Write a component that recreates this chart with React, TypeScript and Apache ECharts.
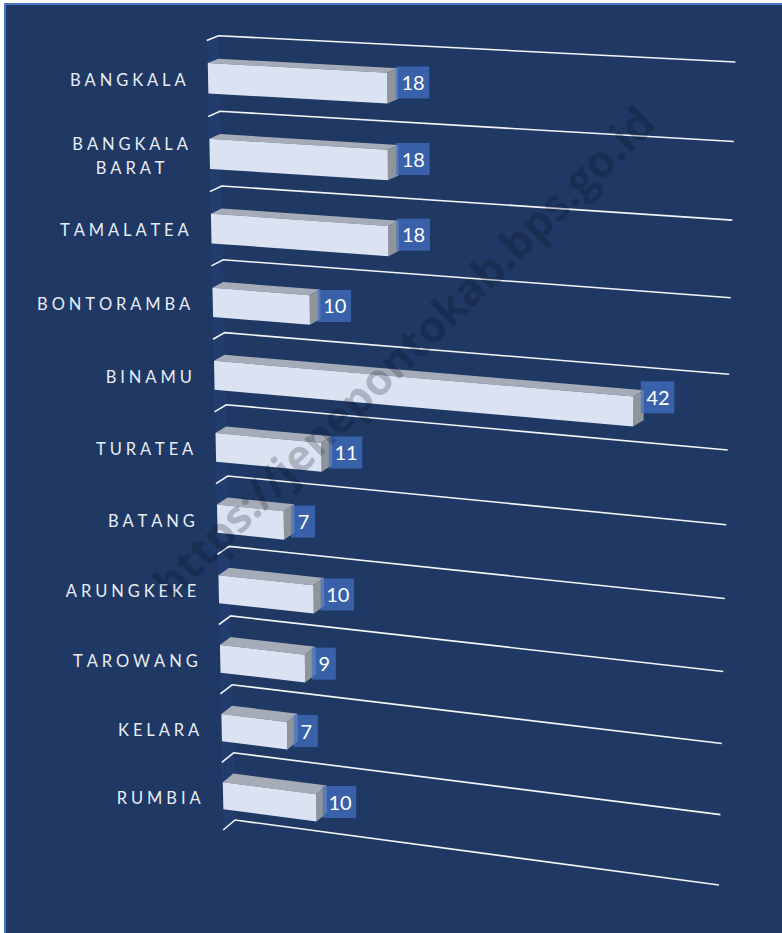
import React, { useEffect, useRef } from "react";
import * as echarts from "echarts";

const categories = ["BANGKALA", "BANGKALA\nBARAT", "TAMALATEA", "BONTORAMBA", "BINAMU", "TURATEA", "BATANG", "ARUNGKEKE", "TAROWANG", "KELARA", "RUMBIA"];
const values = [18, 18, 18, 10, 42, 11, 7, 10, 9, 7, 10];
const WATERMARK = "https://jenepontokab.bps.go.id";

// projection of the flat grid rectangle on to the chart's slanted back wall
const TL = [218.5, 35.7], TR = [735.5, 62], BR = [719, 885], BL = [235, 820];
function homography() {
  const [x0, y0] = TL, [x1, y1] = TR, [x2, y2] = BR, [x3, y3] = BL;
  const dx1 = x1 - x2, dx2 = x3 - x2, sx = x0 - x1 + x2 - x3;
  const dy1 = y1 - y2, dy2 = y3 - y2, sy = y0 - y1 + y2 - y3;
  const den = dx1 * dy2 - dx2 * dy1;
  const g = (sx * dy2 - dx2 * sy) / den, h = (dx1 * sy - sx * dy1) / den;
  return { a: x1 - x0 + g * x1, b: x3 - x0 + h * x3, c: x0, d: y1 - y0 + g * y1, e: y3 - y0 + h * y3, f: y0, g, h };
}
const H = homography();
function project(u: number, v: number, depth: number) {
  const w = H.g * u + H.h * v + 1;
  const x = (H.a * u + H.b * v + H.c) / w;
  const y = (H.d * u + H.e * v + H.f) / w;
  return [x - (1 - depth) * 11.8, y + (1 - depth) * (4.7 + 5.3 * v)];
}
function flat(params: any, pt: number[]) {
  const s = params.coordSys;
  return [(pt[0] - s.x) / s.width, (pt[1] - s.y) / s.height];
}

const FRONT_D = 0.05, BACK_D = 0.95;

function gridItem(params: any, api: any) {
  const idx = api.value(1);
  const c = api.coord([0, idx]);
  const band = api.size([0, 1])[1];
  const top = flat(params, [c[0], c[1] - band / 2])[1];
  const bottom = flat(params, [c[0], c[1] + band / 2])[1];
  const children: any[] = [];
  const line = (v: number) => ({
    type: "polyline",
    shape: { points: [project(0, v, 0), project(0, v, 1), project(1, v, 1)] },
    style: { stroke: "#F4F5F7", lineWidth: 1.6, fill: "none" },
  });
  if (params.dataIndex === 0) {
    children.push({
      type: "polygon",
      shape: { points: [project(0, 0, 0), project(0, 0, 1), project(0, 1, 1), project(0, 1, 0)] },
      style: { fill: "#223C6D" },
    });
  }
  children.push(line(top));
  if (params.dataIndex === categories.length - 1) children.push(line(bottom));
  return { type: "group", children };
}

function barItem(params: any, api: any) {
  const val = api.value(0), idx = api.value(1);
  const start = api.coord([0, idx]), end = api.coord([val, idx]);
  const band = api.size([0, 1])[1];
  const half = band * 0.2;
  const u0 = flat(params, start)[0], u1 = flat(params, end)[0];
  const vt = flat(params, [0, start[1] - half])[1], vb = flat(params, [0, start[1] + half])[1];
  const vm = flat(params, start)[1];
  const ftl = project(u0, vt, FRONT_D), ftr = project(u1, vt, FRONT_D), fbr = project(u1, vb, FRONT_D), fbl = project(u0, vb, FRONT_D);
  const btl = project(u0, vt, BACK_D), btr = project(u1, vt, BACK_D), bbr = project(u1, vb, BACK_D);
  const anchor = project(u1, vm, BACK_D);
  const cy = anchor[1] + 4.3 - 0.31 * val + 0.17 * idx;
  const left = anchor[0] - 2.2 - 0.2 * idx;
  const boxWidth = String(val).length > 1 ? 33.5 : 24;
  const labelAt = project(0, vm, 0);
  const twoLine = categories[idx].includes("\n");
  return {
    type: "group",
    children: [
      { type: "polygon", shape: { points: [ftl, btl, btr, ftr] }, style: { fill: "#A6ACB7" } },
      { type: "polygon", shape: { points: [ftr, btr, bbr, fbr] }, style: { fill: "#90959C" } },
      { type: "polygon", shape: { points: [ftl, ftr, fbr, fbl] }, style: { fill: "#DBE3F3" } },
      { type: "rect", shape: { x: left, y: cy - 16, width: boxWidth, height: 32 }, style: { fill: "rgba(68,114,196,0.72)" } },
      {
        type: "text",
        style: { text: String(val), x: left + boxWidth / 2 + 0.5, y: cy - 0.5, fill: "#FFFFFF", fontSize: 20, fontFamily: "Lato", align: "center", verticalAlign: "middle" },
      },
      {
        type: "text",
        style: { text: categories[idx], x: twoLine ? labelAt[0] - 77 : labelAt[0] - 18, y: labelAt[1] + 1.5, fill: "#E9EDF5", fontSize: 16.5, lineHeight: 24, fontFamily: "Lato", align: twoLine ? "center" : "right", verticalAlign: "middle" },
      },
    ],
  };
}

export default function App() {
  const ref = useRef<HTMLDivElement>(null);
  useEffect(() => {
    document.body.style.margin = "0";
    const chart = echarts.init(ref.current!, undefined, { renderer: "svg" });
    const spaceLabels = () => {
      ref.current?.querySelectorAll("text").forEach((t) => {
        if (/^[A-Z ]+$/.test(t.textContent || "")) {
          t.style.letterSpacing = "3.9px";
          t.style.fontKerning = "none";
        }
      });
    };
    chart.on("finished", spaceLabels);
    const rows = values.map((v, i) => [v, i]);
    chart.setOption({
      animation: false,
      backgroundColor: "#FFFFFF",
      grid: { left: 100, right: 100, top: 60, bottom: 60 },
      xAxis: { type: "value", min: 0, max: 50, show: false },
      yAxis: { type: "category", inverse: true, data: categories, show: false },
      graphic: {
        elements: [
          { type: "rect", z: -10, silent: true, shape: { x: 5, y: 4, width: 800, height: 950 }, style: { fill: "#1F3864", stroke: "#4A78C8", lineWidth: 2 } },
          {
            type: "text", z: 100, silent: true, x: 403, y: 352, rotation: (44.4 * Math.PI) / 180,
            style: { text: WATERMARK, fontSize: 44, fontWeight: "bold", fontFamily: "Open Sans", fill: "rgba(10,12,25,0.22)", align: "center", verticalAlign: "middle" },
          },
        ],
      },
      series: [
        { type: "custom", name: "grid", z: 1, silent: true, coordinateSystem: "cartesian2d", renderItem: gridItem, data: rows, encode: { x: 0, y: 1 } },
        { type: "custom", name: "bars", z: 2, silent: true, coordinateSystem: "cartesian2d", renderItem: barItem, data: rows, encode: { x: 0, y: 1 } },
      ],
    });
    spaceLabels();
    return () => chart.dispose();
  }, []);
  return <div ref={ref} style={{ width: 782, height: 933 }} />;
}
